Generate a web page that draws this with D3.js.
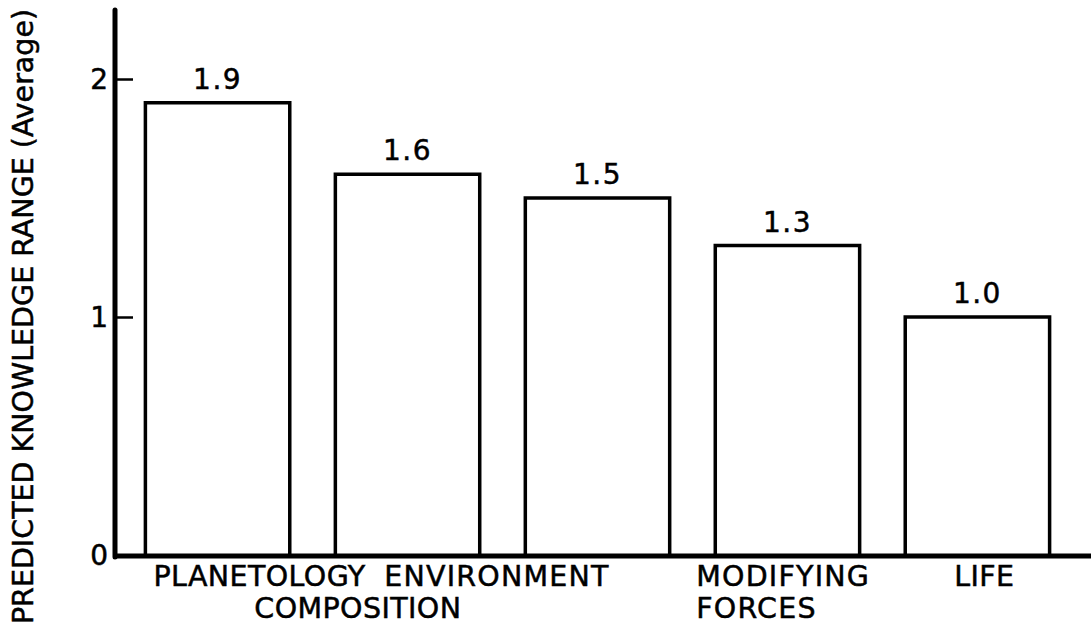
<!DOCTYPE html>
<html>
<head>
<meta charset="utf-8">
<script src="https://cdn.jsdelivr.net/npm/d3@7"></script>
<style>
  html, body { margin: 0; padding: 0; background: #fff; }
  svg { display: block; }
  text { font-family: "DejaVu Sans", "Liberation Sans", sans-serif; fill: #000; stroke: #000; stroke-width: 0.5px; }
</style>
</head>
<body>
<svg id="chart" width="1091" height="631"></svg>
<script>
// Average predicted knowledge range per study area
const categories = ["PLANETOLOGY", "COMPOSITION", "ENVIRONMENT", "MODIFYING FORCES", "LIFE"];
const values = [1.9, 1.6, 1.5, 1.3, 1.0];
const valueLabels = ["1.9", "1.6", "1.5", "1.3", "1.0"];
const yTicks = [0, 1, 2];
const yTitle = "PREDICTED KNOWLEDGE RANGE (Average)";

const svg = d3.select("#chart");

const x = d3.scaleBand()
  .domain(categories)
  .range([115, 1080])
  .paddingInner(0.24)
  .paddingOuter(0.16);

const y = d3.scaleLinear()
  .domain([0, 2])
  .range([555, 79]);

// Bars: open rectangles standing on the baseline
svg.append("g")
  .selectAll("path")
  .data(categories)
  .join("path")
  .attr("d", (c, i) => {
    const x0 = x(c), x1 = x(c) + x.bandwidth();
    return `M${x0},${y(0)}V${y(values[i])}H${x1}V${y(0)}`;
  })
  .attr("fill", "#fff")
  .attr("stroke", "#000")
  .attr("stroke-width", 3.5);

// Value labels above bars
svg.append("g")
  .selectAll("text")
  .data(categories)
  .join("text")
  .attr("x", c => x(c) + x.bandwidth() / 2)
  .attr("y", (c, i) => y(values[i]) - 14)
  .attr("text-anchor", "middle")
  .attr("font-size", 28)
  .attr("letter-spacing", 1.5)
  .text((c, i) => valueLabels[i]);

// Y axis with short inward ticks
const yAxis = d3.axisRight(y)
  .tickValues(yTicks)
  .tickSize(18)
  .tickFormat("");
const gy = svg.append("g").attr("transform", "translate(115,0)").call(yAxis);
gy.select(".domain").remove();
gy.selectAll(".tick line").attr("stroke-width", 2.5);
gy.selectAll(".tick").filter(d => d === 0).select("line").remove();

svg.append("g")
  .selectAll("text")
  .data(yTicks)
  .join("text")
  .attr("x", 108)
  .attr("y", d => y(d))
  .attr("dy", "0.36em")
  .attr("text-anchor", "end")
  .attr("font-size", 28)
  .text(d => d);

// Axis lines
svg.append("line")
  .attr("x1", 115).attr("x2", 115)
  .attr("y1", y(2.29)).attr("y2", y(0) + 2)
  .attr("stroke", "#000").attr("stroke-width", 5)
  .attr("stroke-linecap", "round");
svg.append("line")
  .attr("x1", 113).attr("x2", 1091)
  .attr("y1", y(0) + 1).attr("y2", y(0) + 1)
  .attr("stroke", "#000").attr("stroke-width", 5);

// Category labels, staggered under the bars
const labelLayout = [
  { dx: 8, line: 0 },
  { dx: -81, line: 1 },
  { dx: -141, line: 0 },
  { dx: -19, line: 0 },
  { dx: 49, line: 0 }
];
const gl = svg.append("g").attr("font-size", 28.5);
categories.forEach((c, i) => {
  const words = c === "MODIFYING FORCES" ? ["MODIFYING", "FORCES"] : [c];
  words.forEach((w, j) => {
    gl.append("text")
      .attr("x", x(c) + labelLayout[i].dx)
      .attr("y", 586 + 32 * (labelLayout[i].line + j))
      .attr("letter-spacing", c === "ENVIRONMENT" || c === "MODIFYING FORCES" ? 1.2 : 0.4)
      .text(w);
  });
});

// Rotated axis title
svg.append("text")
  .attr("transform", `translate(33,${(8 + 625) / 2}) rotate(-90)`)
  .attr("text-anchor", "middle")
  .attr("font-size", 28.5)
  .text(yTitle);
</script>
</body>
</html>
